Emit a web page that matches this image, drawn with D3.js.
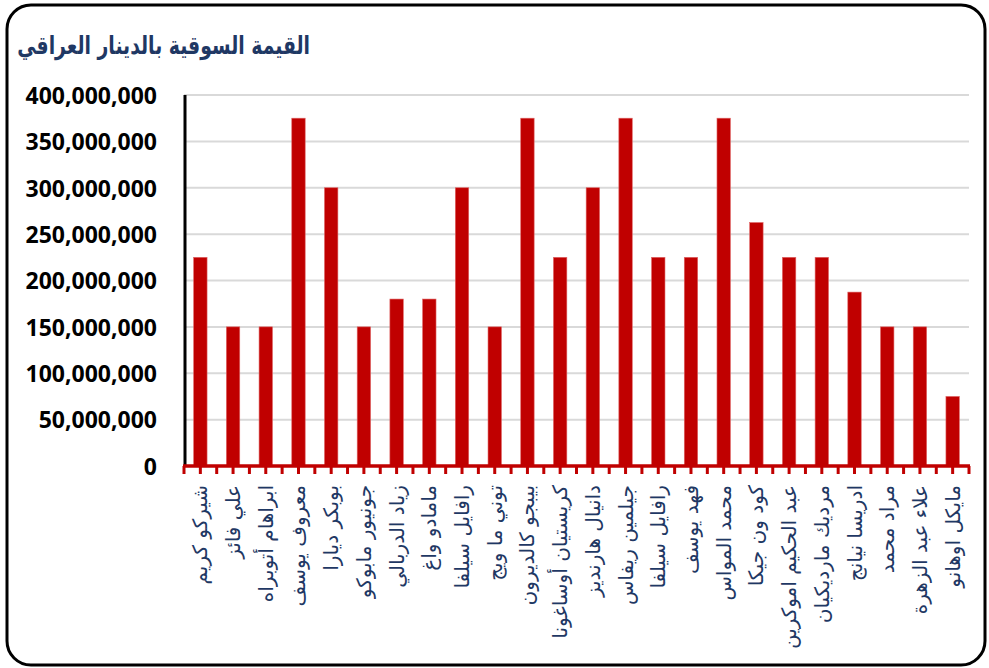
<!DOCTYPE html>
<html>
<head>
<meta charset="utf-8">
<script src="https://cdn.jsdelivr.net/npm/d3@7"></script>
<style>
  html, body { margin: 0; padding: 0; background: #fff; }
  svg { display: block; }
</style>
</head>
<body>
<svg id="chart" width="989" height="668"></svg>
<script>
// player names (x categories)
const players = [
  "شيركو كريم", "علي فائز", "ابراهام أتوبراه", "معروف يوسف", "بوبكر ديارا",
  "جونيور مابوكو", "زياد الدربالي", "مامادو واغ", "رافايل سيلفا", "توني ما ويج",
  "بيبجو كالديرون", "كريستيان أوساغونا", "دانيال هارنديز", "جيلمين ريفاس",
  "رافايل سيلفا", "فهد يوسف", "محمد المواس", "كود ون جيكا", "عبد الحكيم اموكرين",
  "مرديك مارديكيان", "ادريسا نيانج", "مراد محمد", "علاء عبد الزهرة", "مايكل اوهانو"
]

// market value in Iraqi dinar
const marketValues = [
  225000000, 150000000, 150000000, 375000000, 300000000,
  150000000, 180000000, 180000000, 300000000, 150000000,
  375000000, 225000000, 300000000, 375000000,
  225000000, 225000000, 375000000, 262500000, 225000000,
  225000000, 187500000, 150000000, 150000000, 75000000
]

const yTicks = [0, 50000000, 100000000, 150000000, 200000000, 250000000, 300000000, 350000000, 400000000]

const title = "القيمة السوقية بالدينار العراقي"

const svg = d3.select("#chart")
const navy = "#1f3864"
const red = "#c00000"

// outer rounded frame
svg.append("rect")
  .attr("x", 7).attr("y", 5)
  .attr("width", 978).attr("height", 660)
  .attr("rx", 24).attr("ry", 24)
  .attr("fill", "#fff")
  .attr("stroke", "#000")
  .attr("stroke-width", 3)

// title, shrunk to fit the same width as in the picture and stretched a bit taller
const titleText = svg.append("text")
  .attr("x", 310)
  .attr("y", 0)
  .attr("text-anchor", "end")
  .attr("dominant-baseline", "central")
  .attr("font-family", "DejaVu Sans, sans-serif")
  .attr("font-weight", "bold")
  .attr("font-size", 20)
  .attr("fill", navy)
  .text(title)
const titleW = titleText.node().getComputedTextLength()
titleText.attr("font-size", 20 * 293 / titleW)
  .attr("transform", "translate(0,45) scale(1,1.35)")

const plotLeft = 184, plotRight = 969, plotTop = 95, plotBottom = 466

const x = d3.scaleBand()
  .domain(d3.range(players.length))
  .range([plotLeft, plotRight])
  .paddingInner(0.59)
  .paddingOuter(0.295)

const y = d3.scaleLinear()
  .domain([0, 400000000])
  .range([plotBottom, plotTop])

// gridlines
svg.append("g")
  .selectAll("line")
  .data(yTicks.filter(d => d > 0))
  .enter()
  .append("line")
  .attr("x1", plotLeft).attr("x2", plotRight)
  .attr("y1", d => y(d)).attr("y2", d => y(d))
  .attr("stroke", "#d9d9d9")
  .attr("stroke-width", 2)

// y axis
const yAxis = d3.axisLeft(y)
  .tickValues(yTicks)
  .tickSize(0)
  .tickPadding(27)
  .tickFormat(d3.format(","))

const gy = svg.append("g")
  .attr("transform", `translate(${plotLeft},0)`)
  .call(yAxis)
gy.select(".domain").remove()
gy.selectAll("text")
  .attr("font-family", "Open Sans, sans-serif")
  .attr("font-weight", "bold")
  .attr("font-size", 23)
  .attr("fill", "#000")
  .attr("dy", "0.36em")

svg.append("line")
  .attr("x1", plotLeft + 1).attr("x2", plotLeft + 1)
  .attr("y1", plotTop).attr("y2", plotBottom)
  .attr("stroke", "#000")
  .attr("stroke-width", 3)

// bars
svg.append("g")
  .selectAll("rect")
  .data(marketValues)
  .enter()
  .append("rect")
  .attr("x", (d, i) => x(i))
  .attr("y", d => y(d))
  .attr("width", x.bandwidth())
  .attr("height", d => plotBottom - y(d))
  .attr("fill", red)
  .attr("stroke", "#e06666")
  .attr("stroke-width", 0.6)

// x axis line with ticks at boundaries and centres
const step = x.step()
const tickPos = []
for (let i = 0; i <= players.length; i++) {
  tickPos.push(plotLeft + i * step)
  if (i < players.length) tickPos.push(plotLeft + i * step + step / 2)
}
const gx = svg.append("g")
gx.append("line")
  .attr("x1", plotLeft - 1).attr("x2", plotRight + 1)
  .attr("y1", plotBottom).attr("y2", plotBottom)
  .attr("stroke", red)
  .attr("stroke-width", 3.5)
gx.selectAll("line.tick")
  .data(tickPos)
  .enter()
  .append("line")
  .attr("class", "tick")
  .attr("x1", d => d).attr("x2", d => d)
  .attr("y1", plotBottom).attr("y2", plotBottom + 8)
  .attr("stroke", red)
  .attr("stroke-width", 3)

// rotated category labels
svg.append("g")
  .selectAll("text")
  .data(players)
  .enter()
  .append("text")
  .attr("transform", (d, i) => `translate(${x(i) + x.bandwidth() / 2},${plotBottom + 19}) rotate(-90)`)
  .attr("text-anchor", "end")
  .attr("dominant-baseline", "central")
  .attr("font-family", "DejaVu Sans, sans-serif")
  .attr("font-size", 20)
  .attr("fill", navy)
  .text(d => d)
</script>
</body>
</html>
